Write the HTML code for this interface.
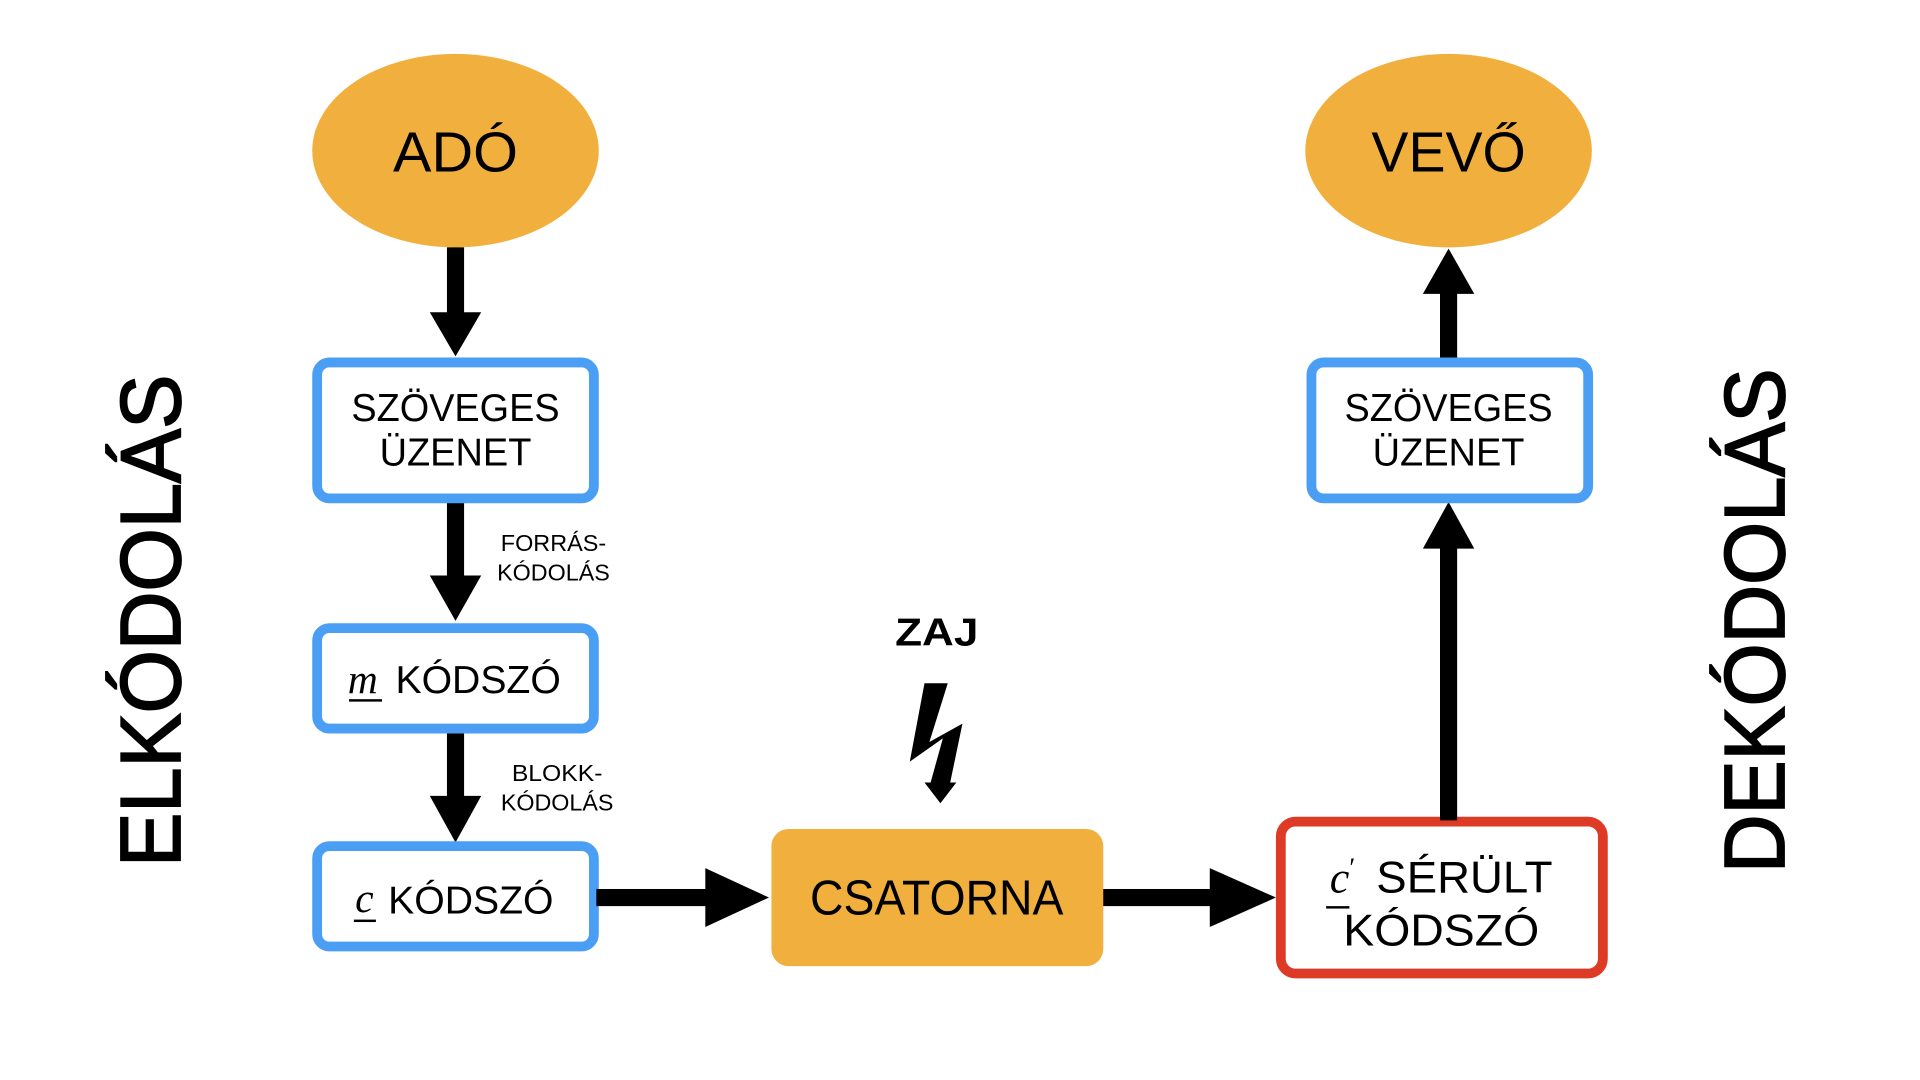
<!DOCTYPE html>
<html><head><meta charset="utf-8"><style>
html,body{margin:0;padding:0;background:#fff;width:1920px;height:1080px;overflow:hidden}
svg{display:block}
text{font-family:"Liberation Sans",sans-serif;fill:#000}
</style></head><body>
<svg width="1920" height="1080" viewBox="0 0 1568 882" xmlns="http://www.w3.org/2000/svg">
<rect width="1568" height="882" fill="#fff"/>
<ellipse cx="372" cy="123" rx="117" ry="79" fill="#F1B03E"/>
<text x="372" y="140" font-size="46" text-anchor="middle" textLength="102" lengthAdjust="spacingAndGlyphs">ADÓ</text>
<ellipse cx="1183" cy="123" rx="117" ry="79" fill="#F1B03E"/>
<text x="1183" y="140" font-size="46" text-anchor="middle" textLength="126" lengthAdjust="spacingAndGlyphs">VEVŐ</text>

<rect x="365" y="202" width="14" height="56" fill="#000"/>
<polygon points="351,255 393,255 372,291" fill="#000"/>
<rect x="365" y="408" width="14" height="66" fill="#000"/>
<polygon points="351,470 393,470 372,507" fill="#000"/>
<rect x="365" y="596" width="14" height="56" fill="#000"/>
<polygon points="351,650 393,650 372,688" fill="#000"/>

<text x="452" y="450" font-size="19" text-anchor="middle" textLength="86" lengthAdjust="spacingAndGlyphs">FORRÁS-</text>
<text x="452" y="474" font-size="19" text-anchor="middle" textLength="92" lengthAdjust="spacingAndGlyphs">KÓDOLÁS</text>
<text x="455" y="638" font-size="19" text-anchor="middle" textLength="74" lengthAdjust="spacingAndGlyphs">BLOKK-</text>
<text x="455" y="662" font-size="19" text-anchor="middle" textLength="92" lengthAdjust="spacingAndGlyphs">KÓDOLÁS</text>

<rect x="259" y="296" width="226" height="111" rx="10" fill="#fff" stroke="#4A9FF5" stroke-width="8"/>
<text x="372" y="344" font-size="32" text-anchor="middle" textLength="170" lengthAdjust="spacingAndGlyphs">SZÖVEGES</text>
<text x="372" y="380" font-size="32" text-anchor="middle" textLength="124" lengthAdjust="spacingAndGlyphs">ÜZENET</text>
<rect x="259" y="513" width="226" height="82" rx="10" fill="#fff" stroke="#4A9FF5" stroke-width="8"/>
<text x="284" y="566" font-size="34" font-style="italic" style="font-family:'Liberation Serif',serif">m</text>
<rect x="285" y="571" width="27" height="2" fill="#000"/>
<text x="323" y="566" font-size="32" textLength="135" lengthAdjust="spacingAndGlyphs">KÓDSZÓ</text>
<rect x="259" y="691" width="226" height="82" rx="10" fill="#fff" stroke="#4A9FF5" stroke-width="8"/>
<text x="290" y="745" font-size="34" font-style="italic" style="font-family:'Liberation Serif',serif">c</text>
<rect x="289" y="751" width="18" height="2" fill="#000"/>
<text x="317" y="746" font-size="32" textLength="135" lengthAdjust="spacingAndGlyphs">KÓDSZÓ</text>

<rect x="487" y="726" width="92" height="14" fill="#000"/>
<polygon points="576,709 576,757 628,733" fill="#000"/>
<rect x="900" y="726" width="92" height="14" fill="#000"/>
<polygon points="988,709 988,757 1042,733" fill="#000"/>

<rect x="630" y="677" width="271" height="112" rx="14" fill="#F1B03E"/>
<text x="765" y="747" font-size="40" text-anchor="middle" textLength="207" lengthAdjust="spacingAndGlyphs">CSATORNA</text>

<text x="765" y="527" font-size="32" font-weight="bold" text-anchor="middle" textLength="68" lengthAdjust="spacingAndGlyphs">ZAJ</text>
<polygon points="755,558 774,558 759,606 786,591 776,639 781,639 768,656 755,639 760,639 770,603 743,622" fill="#000"/>

<rect x="1046" y="671" width="263" height="124" rx="12" fill="#fff" stroke="#DE3B27" stroke-width="8"/>
<text x="1086" y="729" font-size="36" font-style="italic" style="font-family:'Liberation Serif',serif">c</text>
<text x="1102" y="716" font-size="22" style="font-family:'Liberation Serif',serif">′</text>
<rect x="1083" y="740" width="19" height="2" fill="#000"/>
<text x="1124" y="729" font-size="36" textLength="144" lengthAdjust="spacingAndGlyphs">SÉRÜLT</text>
<text x="1177" y="772" font-size="36" text-anchor="middle" textLength="160" lengthAdjust="spacingAndGlyphs">KÓDSZÓ</text>

<rect x="1176" y="444" width="14" height="226" fill="#000"/>
<polygon points="1162,448 1204,448 1183,410" fill="#000"/>
<rect x="1176" y="236" width="14" height="58" fill="#000"/>
<polygon points="1162,240 1204,240 1183,203" fill="#000"/>

<rect x="1071" y="296" width="226" height="111" rx="10" fill="#fff" stroke="#4A9FF5" stroke-width="8"/>
<text x="1183" y="344" font-size="32" text-anchor="middle" textLength="170" lengthAdjust="spacingAndGlyphs">SZÖVEGES</text>
<text x="1183" y="380" font-size="32" text-anchor="middle" textLength="124" lengthAdjust="spacingAndGlyphs">ÜZENET</text>

<text transform="translate(147,507) rotate(-90)" font-size="70" text-anchor="middle" textLength="402" lengthAdjust="spacingAndGlyphs" stroke="#000" stroke-width="1.5">ELKÓDOLÁS</text>
<text transform="translate(1457,507) rotate(-90)" font-size="70" text-anchor="middle" textLength="412" lengthAdjust="spacingAndGlyphs" stroke="#000" stroke-width="1.5">DEKÓDOLÁS</text>
</svg>
</body></html>
